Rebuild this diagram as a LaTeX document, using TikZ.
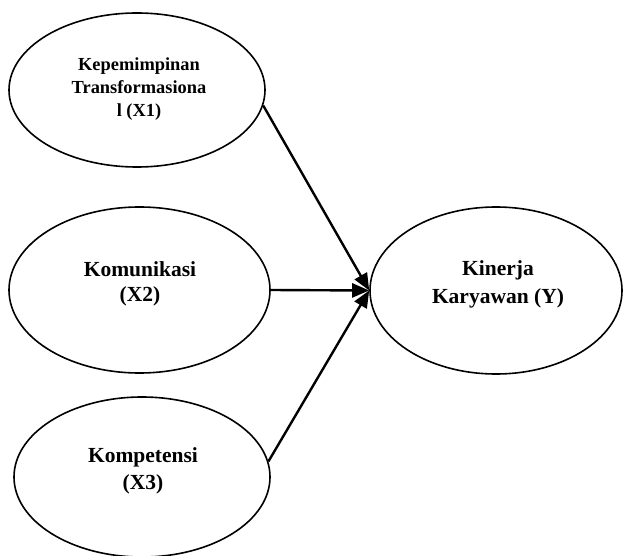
\documentclass[tikz,border=0pt]{standalone}
\usepackage{fontspec}
\setmainfont{Liberation Serif}
\usetikzlibrary{shapes.geometric,arrows.meta}
\begin{document}
\begin{tikzpicture}[x=1pt,y=-1pt,
  varbox/.style={draw=black, line width=1.6pt, ellipse, inner sep=0pt, fill=none},
  vartext/.style={inner sep=0pt, align=center, font=\bfseries},
  link/.style={line width=2.4pt, -{Triangle[length=17pt,width=14pt]}}]
\useasboundingbox (0,0) rectangle (624,556);
\fill[white] (0,0) rectangle (624,556);
\node[varbox, minimum width=256pt, minimum height=154pt] (X1) at (137,90) {};
\node[varbox, minimum width=261pt, minimum height=166pt] (X2) at (139.5,290) {};
\node[varbox, minimum width=256pt, minimum height=160pt] (X3) at (142,477) {};
\node[varbox, minimum width=252pt, minimum height=167pt] (Y) at (496,290.5) {};
\node[vartext, font=\fontsize{18.4}{23}\selectfont\bfseries] (t1) at (139,89.5) {Kepemimpinan\\Transformasiona\\l (X1)};
\node[vartext, font=\fontsize{21.5}{25}\selectfont\bfseries] (t2) at (140,284) {Komunikasi\\(X2)};
\node[vartext, font=\fontsize{21.5}{27}\selectfont\bfseries] (t3) at (143,471) {Kompetensi\\(X3)};
\node[vartext, font=\fontsize{21.5}{28}\selectfont\bfseries] (ty) at (498,284) {Kinerja\\Karyawan (Y)};
\draw[link] (X1.-7) -- (Y.west);
\draw[link] (X2.east) -- (Y.west);
\draw[link] (X3.7) -- (Y.west);
\end{tikzpicture}
\end{document}
